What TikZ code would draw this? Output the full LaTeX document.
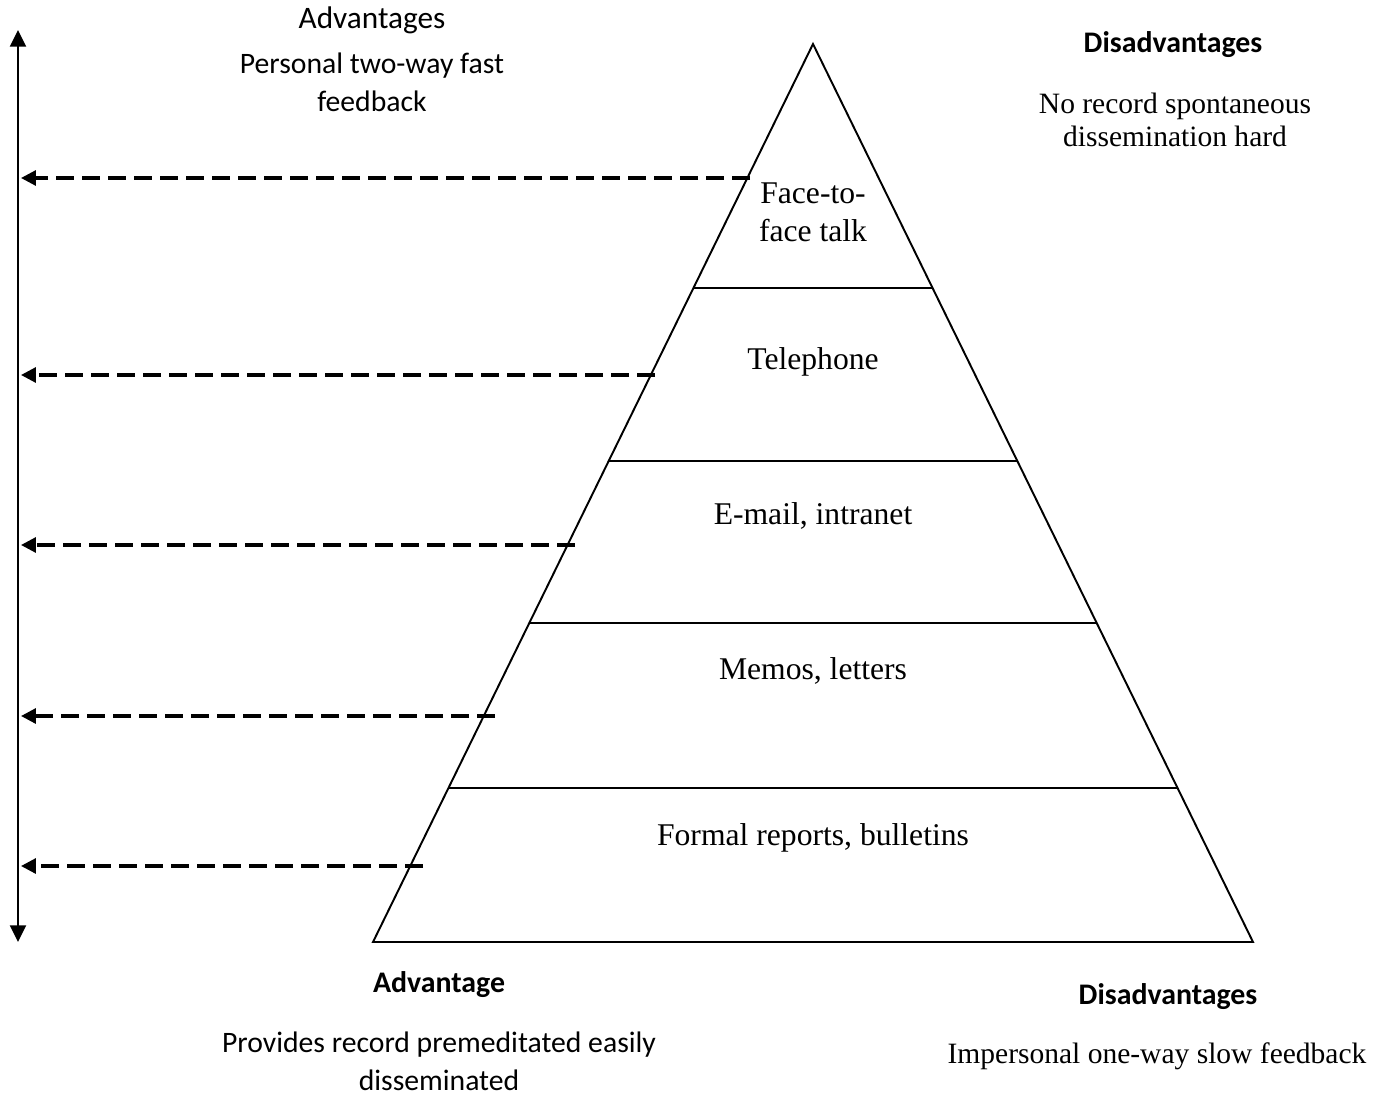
\documentclass[tikz,border=0pt]{standalone}
\usepackage{fontspec}
\setmainfont{Liberation Serif}
\setsansfont{Carlito}
\usepackage{tikz}
\usetikzlibrary{arrows.meta, positioning, calc}
\tikzstyle{arrow} = [line width=1.6pt,{Triangle[length=9.5pt,width=9pt]}-{Triangle[length=9.5pt,width=9pt]}]
\tikzstyle{dasharrow} = [line width=1.8pt,-{Triangle[length=8.5pt,width=8.5pt]}, dash pattern=on 10pt off 4.8pt]
\tikzstyle{level} = [font=\fontsize{18}{21.5}\selectfont, align=center, inner sep=0pt]
\tikzstyle{sidehead} = [font=\sffamily\bfseries\fontsize{17}{20}\selectfont, inner sep=0pt]
\tikzstyle{sidesans} = [font=\sffamily\fontsize{16.9}{21.5}\selectfont, align=center, inner sep=0pt]
\tikzstyle{sideserif} = [font=\fontsize{16.8}{18.8}\selectfont, align=center, inner sep=0pt]

\begin{document}
\begin{tikzpicture}[x=0.02cm, y=-0.02cm, line width=1.1pt]
    \useasboundingbox (0,0) rectangle (1385,1095);

    % Pyramid
    \coordinate (apex) at (813,44);
    \coordinate (bl) at (373,942);
    \coordinate (br) at (1253,942);
    \draw (apex) -- (bl) -- (br) -- cycle;

    % Levels
    \draw ($(apex)!0.2717!(bl)$) -- ($(apex)!0.2717!(br)$);
    \draw ($(apex)!0.4644!(bl)$) -- ($(apex)!0.4644!(br)$);
    \draw ($(apex)!0.6448!(bl)$) -- ($(apex)!0.6448!(br)$);
    \draw ($(apex)!0.8285!(bl)$) -- ($(apex)!0.8285!(br)$);

    \node (face) [level] at (813,212) {Face-to-\\face talk};
    \node (phone) [level] at (813,362) {Telephone};
    \node (email) [level] at (813,516) {E-mail, intranet};
    \node (memo) [level] at (813,671) {Memos, letters};
    \node (report) [level] at (813,838) {Formal reports, bulletins};

    % Axis
    \coordinate (top) at (18,30);
    \coordinate (bottom) at (18,942);
    \draw [arrow] (top) -- (bottom);

    % Dashed arrows
    \coordinate (s1) at (750,178);  \coordinate (e1) at (21,178);
    \coordinate (s2) at (655,375);  \coordinate (e2) at (21,375);
    \coordinate (s3) at (575,545);  \coordinate (e3) at (21,545);
    \coordinate (s4) at (495,716);  \coordinate (e4) at (21,716);
    \coordinate (s5) at (423,866);  \coordinate (e5) at (21,866);
    \draw [dasharrow] (s1) -- (e1);
    \draw [dasharrow] (s2) -- (e2);
    \draw [dasharrow] (s3) -- (e3);
    \draw [dasharrow] (s4) -- (e4);
    \draw [dasharrow] (s5) -- (e5);

    % Labels
    \node (advtop) [sidesans, font=\sffamily\fontsize{17.8}{21.5}\selectfont] at (372,20) {Advantages};
    \node (advtoptxt) [sidesans] at (372,82) {Personal two-way fast\\feedback};
    \node (distop) [sidehead] at (1173,45) {Disadvantages};
    \node (distoptxt) [sideserif] at (1175,120) {No record spontaneous\\dissemination hard};
    \node (advbot) [sidehead] at (439,985) {Advantage};
    \node (advbottxt) [sidesans] at (439,1061) {Provides record premeditated easily\\disseminated};
    \node (disbot) [sidehead] at (1168,997) {Disadvantages};
    \node (disbottxt) [sideserif] at (1157,1056) {Impersonal one-way slow feedback};
\end{tikzpicture}
\end{document}
